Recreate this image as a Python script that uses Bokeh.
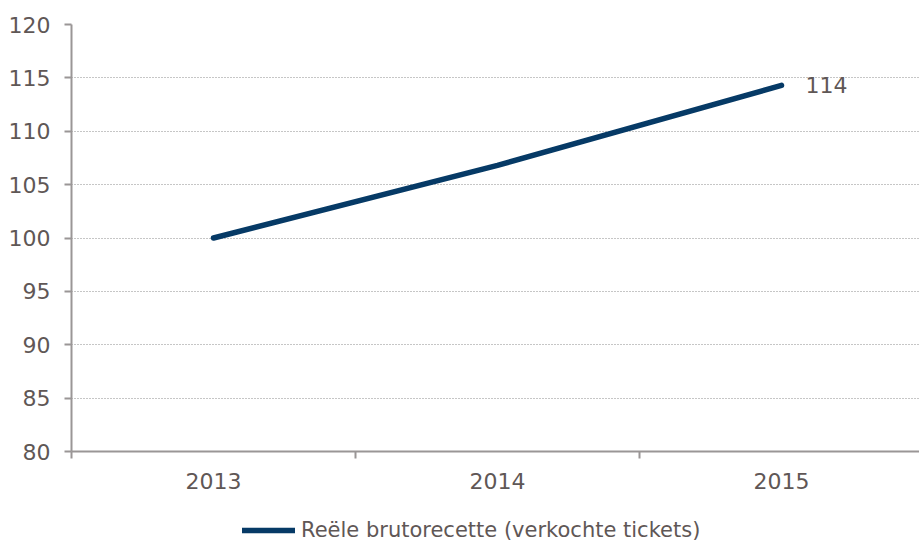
from bokeh.plotting import figure
from bokeh.layouts import column
from bokeh.models import FixedTicker, Legend, LegendItem, ColumnDataSource, Range1d
from bokeh.core.properties import value
from bokeh.embed import file_html
from bokeh.resources import INLINE

years = ["2013", "2014", "2015"]
values = [100.0, 106.8, 114.3]
end_label = ["114"]
series_name = "Reële brutorecette (verkochte tickets)"
y_ticks = [80, 85, 90, 95, 100, 105, 110, 115, 120]

FONT = "DejaVu Sans"
TXT = "#5f5756"
LINE = "#063a66"
AX = "#9a9696"
FS = "22px"

xpos = [i + 0.5 for i in range(len(years))]

p = figure(width=919, height=500, output_backend="svg", toolbar_location=None,
           x_range=Range1d(0, 2.986), y_range=Range1d(80, 120),
           min_border_left=71, min_border_right=0, min_border_top=24, min_border_bottom=49)
p.outline_line_color = None
p.background_fill_color = "white"
p.border_fill_color = "white"

src = ColumnDataSource(dict(x=xpos, y=values))
r = p.line("x", "y", source=src, line_color=LINE, line_width=5.5, line_cap="round")

lsrc = ColumnDataSource(dict(x=[xpos[-1]], y=[values[-1]], t=end_label))
p.text("x", "y", text="t", source=lsrc, x_offset=24, text_baseline="middle",
       text_align="left", text_font=value(FONT), text_font_size=FS, text_color=TXT)

# y axis
ya = p.yaxis[0]
ya.ticker = FixedTicker(ticks=y_ticks)
ya.axis_line_color = AX
ya.axis_line_width = 2
ya.major_tick_line_color = AX
ya.major_tick_line_width = 2
ya.major_tick_out = 7
ya.major_tick_in = 0
ya.minor_tick_line_color = None
ya.major_label_text_font = FONT
ya.major_label_text_font_size = FS
ya.major_label_text_color = TXT
ya.major_label_standoff = 14

# x axis
xa = p.xaxis[0]
xa.ticker = FixedTicker(ticks=xpos, minor_ticks=[0, 1, 2, 3])
xa.major_label_overrides = {x: y for x, y in zip(xpos, years)}
xa.axis_line_color = AX
xa.axis_line_width = 2
xa.major_tick_line_color = None
xa.minor_tick_line_color = AX
xa.minor_tick_line_width = 2
xa.minor_tick_out = 7
xa.minor_tick_in = 0
xa.major_label_text_font = FONT
xa.major_label_text_font_size = FS
xa.major_label_text_color = TXT
xa.major_label_standoff = 14

p.xgrid.grid_line_color = None
p.ygrid.ticker = FixedTicker(ticks=y_ticks[1:])
p.ygrid.grid_line_color = "#8c8c8c"
p.ygrid.grid_line_dash = "1 2"
p.ygrid.grid_line_width = 1.2

# legend strip below the chart
q = figure(width=919, height=44, output_backend="svg", toolbar_location=None,
           x_range=Range1d(0, 1), y_range=Range1d(0, 1),
           x_axis_type=None, y_axis_type=None,
           min_border_left=0, min_border_right=0, min_border_top=0, min_border_bottom=0)
q.outline_line_color = None
q.border_fill_color = "white"
q.background_fill_color = "white"
rq = q.line(xpos, values, line_color=LINE, line_width=5.5, line_cap="round")

legend = Legend(items=[LegendItem(label=series_name, renderers=[rq])],
                location=(171, 2), orientation="horizontal",
                glyph_width=53, glyph_height=24, label_standoff=6,
                padding=0, margin=0, border_line_color=None,
                background_fill_alpha=0,
                label_text_font=FONT, label_text_font_size="21px",
                label_text_color=TXT)
q.add_layout(legend, "center")

layout = column(p, q, spacing=0)
open("out.html", "w").write(file_html(layout, INLINE))
